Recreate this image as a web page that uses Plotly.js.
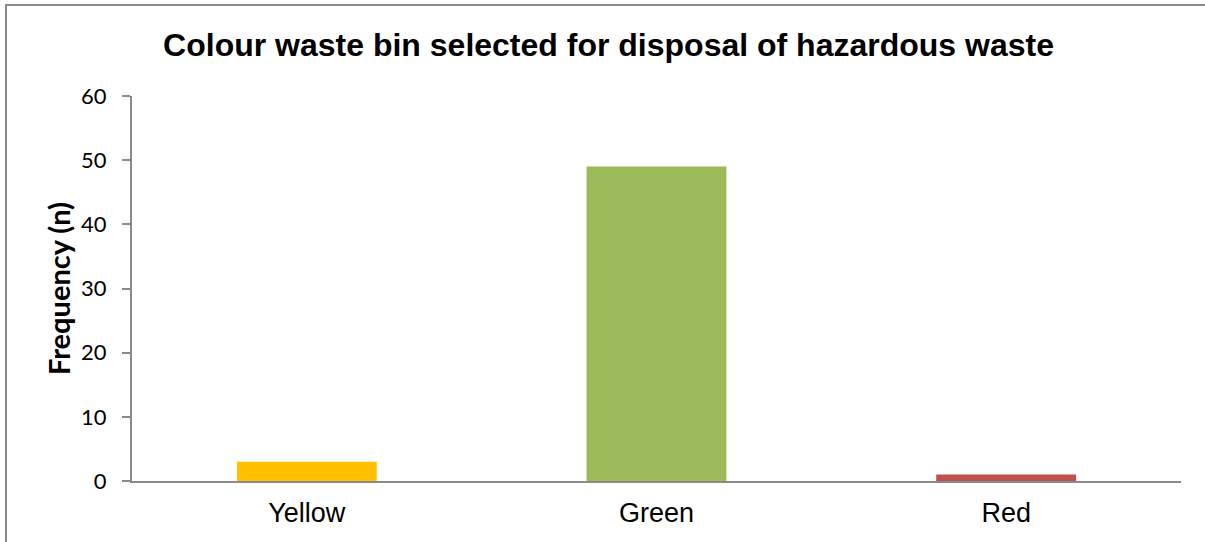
<!DOCTYPE html>
<html>
<head>
<meta charset="utf-8">
<script src="https://cdn.plot.ly/plotly-3.0.1.min.js"></script>
<style>
html,body{margin:0;padding:0;background:#fff;overflow:hidden;}
#frame{position:absolute;left:5px;top:4px;width:1300px;height:700px;border-left:2px solid #8a8a8a;border-top:2px solid #8a8a8a;}
#chart{position:absolute;left:0;top:0;width:1205px;height:542px;}
</style>
</head>
<body>
<div id="frame"></div>
<div id="chart"></div>
<script>
const categories = ["Yellow", "Green", "Red"];
const frequency = [3, 49, 1];
const barColors = ["#FFC000", "#9BBB59", "#C0504D"];
const yTicks = [0, 10, 20, 30, 40, 50, 60];

const trace = {
  type: "bar",
  x: categories,
  y: frequency,
  marker: {color: barColors},
  hoverinfo: "x+y"
};

const layout = {
  width: 1205,
  height: 542,
  margin: {l: 132, r: 24, t: 96, b: 61},
  paper_bgcolor: "rgba(0,0,0,0)",
  plot_bgcolor: "rgba(0,0,0,0)",
  bargap: 0.6,
  showlegend: false,
  title: {
    text: "Colour waste bin selected for disposal of hazardous waste",
    font: {family: "Liberation Sans, Arial, sans-serif", size: 32, color: "#000", weight: "bold"},
    x: 0.505, xanchor: "center",
    y: 0.917, yanchor: "middle"
  },
  xaxis: {
    type: "category",
    showline: true,
    linecolor: "#8a8a8a",
    linewidth: 2,
    ticks: "",
    ticklabelstandoff: 7,
    tickfont: {family: "Liberation Sans, Arial, sans-serif", size: 27, color: "#000"},
    showgrid: false,
    zeroline: false,
    fixedrange: true
  },
  yaxis: {
    range: [0, 60],
    tickvals: yTicks,
    ticktext: yTicks.map(String),
    showline: true,
    linecolor: "#8a8a8a",
    linewidth: 2,
    ticks: "outside",
    ticklen: 8,
    tickwidth: 2,
    tickcolor: "#8a8a8a",
    ticklabelstandoff: 11,
    tickfont: {family: "Lato, Open Sans, sans-serif", size: 22, color: "#000"},
    showgrid: false,
    zeroline: false,
    title: {
      text: "Frequency (n)",
      font: {family: "Lato, sans-serif", size: 29, color: "#000", weight: "bold"},
      standoff: 2
    },
    fixedrange: true
  }
};

Plotly.newPlot("chart", [trace], layout, {displayModeBar: false, staticPlot: true});
</script>
</body>
</html>
